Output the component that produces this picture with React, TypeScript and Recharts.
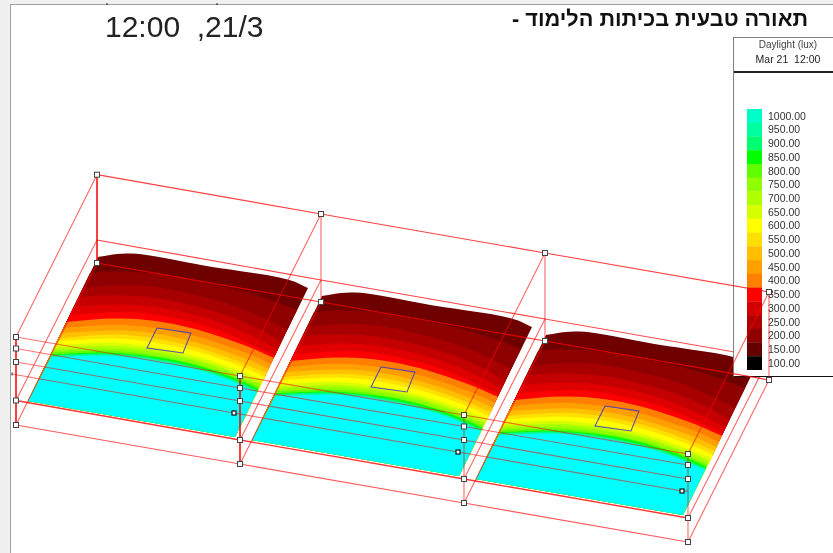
import React from "react";
import { ScatterChart, Scatter, XAxis, YAxis, BarChart, Bar, Cell } from "recharts";

type P = [number, number];

const panelOffsets: P[] = [[0, 0], [224, 39], [448, 78]];

// surface outline of a room
const surfaceTop: P[] = [[98, 257], [115, 254], [133, 253], [160, 257], [200, 265], [233, 270], [287, 278], [308, 288]];
const surfaceBottomRight: P = [235, 437];
const surfaceBottomLeft: P = [28, 401];

const topColor = "#6e0000";
const bandColors = [
  "#8f0000", "#a80000", "#c40000", "#e00000", "#ff0000",
  "#ff8000", "#ffa000", "#ffc000", "#ffe000", "#ffff00",
  "#d8ff00", "#b0ff00", "#90ff00", "#60ff00", "#00ff00",
  "#00ff90", "#00ffff",
];
const bandEdges: P[][] = [
  [[90, 273], [110, 271], [140, 272], [170, 275], [200, 282], [230, 288], [260, 296], [297, 310]],
  [[83, 288], [110, 285], [140, 285], [170, 289], [200, 296], [230, 304], [260, 316], [287, 330]],
  [[78.5, 297], [110, 295], [140, 296], [170, 300], [200, 307], [230, 316], [260, 329], [281.5, 342]],
  [[73.7, 307], [110, 304], [140, 305], [170, 309], [200, 316], [230, 326], [260, 340], [277.6, 350]],
  [[70, 315], [110, 312], [140, 312], [170, 317], [200, 324], [230, 334], [260, 349], [275, 355]],
  [[66.4, 322], [110, 318], [140, 319], [170, 323], [200, 330], [230, 340], [250, 347], [274, 358]],
  [[63.5, 328], [110, 324], [140, 326], [170, 330], [200, 337], [230, 347], [250, 354], [271, 364]],
  [[61, 333], [110, 330], [140, 331], [170, 336], [200, 343], [230, 353], [250, 360], [269, 369]],
  [[59.5, 338], [110, 334], [140, 336], [170, 341], [200, 348], [230, 358], [250, 366], [266.5, 373]],
  [[58, 341], [110, 338], [140, 340], [170, 345], [200, 352], [230, 362], [250, 370], [265, 377]],
  [[56, 345], [110, 342], [140, 345], [170, 350], [200, 357], [230, 367], [250, 375], [263, 380]],
  [[55, 348], [110, 345], [140, 348], [170, 353], [200, 360], [230, 370], [250, 378], [261.5, 383]],
  [[54, 350], [110, 348], [140, 350], [170, 355], [200, 362], [230, 372], [250, 381], [260, 385]],
  [[53, 352], [110, 350], [140, 353], [170, 358], [200, 365], [230, 375], [250, 383], [259, 387]],
  [[52.5, 354], [110, 352], [140, 355], [170, 359], [200, 366], [230, 376], [250, 385], [258.5, 389]],
  [[52, 355], [110, 353], [140, 356], [170, 361], [200, 368], [230, 378], [250, 387], [258, 390]],
  [[51, 357], [110, 355], [140, 358], [170, 363], [200, 370], [230, 380], [250, 389], [257, 392]],
];

const windowOutline: P[] = [[157, 328], [191, 333], [183, 353], [147, 348], [157, 328]];

// wireframe polylines
const roofBack: P[] = [[97, 174.7], [321, 214], [545, 253], [769, 292]];
const midBack: P[] = [[97, 240], [321, 280], [545, 319]];
const midBackHidden: P[] = [[545, 319], [769, 358]];
const floorBack: P[] = [[97, 263], [321, 302], [545, 341], [769, 380]];
const frontLines: P[][] = [
  [[16, 337], [240, 376], [464, 415], [688, 454]],
  [[16, 348.5], [240, 388], [464, 426.5], [688, 465]],
  [[16, 362], [240, 401], [464, 440], [688, 479]],
  [[12, 374], [234, 413], [458, 452], [682, 491]],
  [[16, 400.5], [240, 440], [464, 479], [688, 518]],
  [[16, 425], [240, 464], [464, 503], [688, 542]],
];
const verticals: P[][] = [
  [[97, 174.7], [97, 263]],
  [[321, 214], [321, 302]],
  [[545, 253], [545, 341]],
  [[769, 292], [769, 380]],
  [[16, 337], [16, 425]],
  [[240, 376], [240, 464]],
  [[464, 415], [464, 503]],
  [[688, 454], [688, 542]],
  [[688, 491], [682, 491]],
];
const depthLines: P[][] = [
  [[97, 174.7], [16, 337]], [[321, 214], [240, 376]], [[545, 253], [464, 415]], [[769, 292], [688, 454]],
  [[97, 240], [16, 400.5]], [[321, 280], [240, 440]], [[545, 319], [464, 479]],
  [[97, 263], [16, 425]], [[321, 302], [240, 464]], [[545, 341], [464, 503]], [[769, 380], [688, 542]],
];
const depthHidden: P[] = [[769, 358], [688, 518]];
const stubMarks: P[][] = [[[12, 372.5], [12, 375.5]], [[107, 3], [107, 5]], [[217, 3], [217, 5]]];

const whiteHandles: P[] = [
  [97, 174.7], [321, 214], [545, 253], [769, 292],
  [97, 263], [321, 302], [545, 341], [769, 380],
  [16, 337], [16, 348.5], [16, 362], [16, 400.5], [16, 425],
  [240, 376], [240, 388], [240, 401], [240, 440], [240, 464],
  [464, 415], [464, 426.5], [464, 440], [464, 479], [464, 503],
  [688, 454], [688, 465], [688, 479], [688, 518], [688, 542],
];
const darkHandles: P[] = [[234, 413], [458, 452], [682, 491]];

const legendLabels = [
  "1000.00", "950.00", "900.00", "850.00", "800.00", "750.00", "700.00", "650.00", "600.00", "550.00",
  "500.00", "450.00", "400.00", "350.00", "300.00", "250.00", "200.00", "150.00", "100.00",
];
const legendColors = [
  "#00ffc8", "#00ffa0", "#00ff70", "#00ff00", "#60ff00", "#90ff00", "#b0ff00", "#d8ff00", "#ffff00", "#ffdf00",
  "#ffbf00", "#ff9f00", "#ff7f00", "#ff0000", "#d40000", "#b00000", "#900000", "#650000", "#000000",
];

const toData = (pts: P[]) => pts.map(([x, y]) => ({ x, y }));
const shift = (pts: P[], o: P): P[] => pts.map(([x, y]) => [x + o[0], y + o[1]] as P);
const noMark = () => <g />;

// rounds the corners of a hand-read contour so that it draws as a curve
const roundCorners = (pts: P[], passes = 2): P[] => {
  let cur = pts;
  for (let n = 0; n < passes; n++) {
    const next: P[] = [cur[0]];
    for (let i = 0; i < cur.length - 1; i++) {
      const [ax, ay] = cur[i];
      const [bx, by] = cur[i + 1];
      next.push([ax * 0.75 + bx * 0.25, ay * 0.75 + by * 0.25]);
      next.push([ax * 0.25 + bx * 0.75, ay * 0.25 + by * 0.75]);
    }
    next.push(cur[cur.length - 1]);
    cur = next;
  }
  return cur;
};

const Axes = () => (
  <>
    <XAxis type="number" dataKey="x" domain={[0, 833]} hide allowDataOverflow />
    <YAxis type="number" dataKey="y" domain={[0, 553]} reversed hide allowDataOverflow />
  </>
);

const polyline = (pts: P[], key: string, stroke: string, width: number, opacity = 1, fill = "none") => (
  <Scatter
    key={key}
    data={toData(pts)}
    isAnimationActive={false}
    shape={noMark}
    line={{ stroke, strokeWidth: width, strokeOpacity: opacity, fill }}
  />
);

const WhiteHandle = (p: any) => (
  <rect x={p.cx - 2.5} y={p.cy - 2.5} width={5} height={5} fill="#fff" stroke="#444" strokeWidth={1} />
);
const DarkHandle = (p: any) => (
  <rect x={p.cx - 2} y={p.cy - 2} width={4} height={4} fill="#fff" stroke="#111" strokeWidth={1.2} />
);

const surfacePolys = panelOffsets.flatMap((o, pi) => {
  const corners: P[] = [surfaceBottomRight, surfaceBottomLeft];
  const top = roundCorners(surfaceTop);
  const out = [polyline(shift([...top, ...corners, top[0]], o), `s${pi}`, "none", 0, 1, topColor)];
  bandEdges.forEach((edge, i) => {
    const curve = roundCorners(edge);
    out.push(polyline(shift([...curve, ...corners, curve[0]], o), `b${pi}-${i}`, "none", 0, 1, bandColors[i]));
  });
  return out;
});

const size = { width: 833, height: 553 };
const margin = { top: 0, right: 0, bottom: 0, left: 0 };
const layer: React.CSSProperties = { position: "absolute", left: 0, top: 0 };

export default function App() {
  const legendData = legendLabels.map((label) => ({ label, v: 1 }));
  return (
    <div style={{ position: "absolute", left: 0, top: 0, width: 833, height: 553, background: "#f0f0f0", overflow: "hidden", fontFamily: "'Liberation Sans', Arial, sans-serif", filter: "blur(0.45px)" }}>
      <div style={{ position: "absolute", left: 10, top: 4, right: -2, bottom: -2, background: "#fff", border: "1px solid #a0a0a0" }} />

      <div style={layer}>
        <ScatterChart {...size} margin={margin}>
          {Axes()}
          {surfacePolys}
          {polyline(midBackHidden, "mbh", "#ff0000", 1.1, 0.7)}
          {polyline(depthHidden, "dh", "#ff0000", 1.1, 0.6)}
        </ScatterChart>
      </div>

      <div style={{ position: "absolute", left: 733, top: 37, width: 110, height: 338, background: "#fff", borderLeft: "1px solid #808080", borderTop: "1px solid #808080", borderBottom: "1.5px solid #111" }}>
        <div style={{ position: "absolute", left: 0, top: 33, width: 110, height: 1.5, background: "#222" }} />
      </div>
      <div style={{ position: "absolute", left: 733, top: 38, width: 110, textAlign: "center", fontSize: 10, lineHeight: "14px", color: "#444" }}>
        Daylight (lux)
        <br />
        <span style={{ color: "#222", whiteSpace: "pre", fontSize: 10.5 }}>Mar 21  12:00</span>
      </div>
      <div style={{ position: "absolute", left: 747, top: 109 }}>
        <BarChart width={86} height={261} data={legendData} layout="vertical" margin={margin} barCategoryGap={0}>
          <XAxis type="number" domain={[0, 1]} hide />
          <YAxis
            type="category"
            dataKey="label"
            orientation="right"
            width={71}
            interval={0}
            tickLine={false}
            axisLine={false}
            tick={{ fontSize: 10.5, fill: "#333", fontFamily: "'Liberation Sans', Arial, sans-serif", textAnchor: "start" }}
            tickMargin={0}
          />
          <Bar dataKey="v" isAnimationActive={false}>
            {legendColors.map((c, i) => (
              <Cell key={i} fill={c} />
            ))}
          </Bar>
        </BarChart>
      </div>

      <div style={layer}>
        <ScatterChart {...size} margin={margin}>
          {Axes()}
          {panelOffsets.map((o, i) => polyline(shift(windowOutline, o), `w${i}`, "#3a3ac8", 1.1, 0.85))}
          {polyline(roofBack, "rb", "#ff0000", 1.2, 0.75)}
          {polyline(midBack, "mb", "#ff0000", 1.2, 0.75)}
          {polyline(floorBack, "fb", "#ff0000", 1.2, 0.8)}
          {frontLines.map((l, i) => polyline(l, `f${i}`, "#ff0000", i === 4 ? 1.4 : 1.15, i === 4 ? 0.8 : i === 5 ? 0.65 : 0.55))}
          {verticals.map((l, i) => polyline(l, `v${i}`, "#ff0000", i === 0 || i === 4 || i === 5 ? 1.6 : 1.1, i === 0 || i === 4 || i === 5 ? 0.95 : 0.6))}
          {depthLines.map((l, i) => polyline(l, `d${i}`, "#ff0000", 1.1, 0.6))}
          {stubMarks.map((l, i) => polyline(l, `t${i}`, "#222", 1))}
          <Scatter data={toData(whiteHandles)} isAnimationActive={false} shape={WhiteHandle} />
          <Scatter data={toData(darkHandles)} isAnimationActive={false} shape={DarkHandle} />
        </ScatterChart>
      </div>

      <div style={{ position: "absolute", left: 105, top: 9, fontSize: 30, lineHeight: "36px", color: "#222", whiteSpace: "pre" }}>12:00  ,21/3</div>
      <div dir="rtl" style={{ position: "absolute", right: 25, top: 6, fontSize: 21.7, lineHeight: "26px", fontWeight: "bold", color: "#111", whiteSpace: "pre" }}>תאורה טבעית בכיתות הלימוד -</div>
    </div>
  );
}
